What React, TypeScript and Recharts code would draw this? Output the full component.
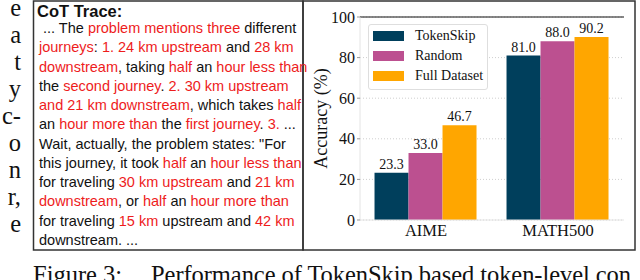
import {
  BarChart,
  Bar,
  XAxis,
  YAxis,
  CartesianGrid,
  Legend,
  LabelList,
  ReferenceLine,
} from "recharts";

const CATEGORIES = ["AIME", "MATH500"];
const TOKENSKIP = [23.3, 81.0];
const RANDOM = [33.0, 88.0];
const FULL_DATASET = [46.7, 90.2];
const Y_TICKS = [0, 20, 40, 60, 80, 100];

const SERIES = [
  { key: "tokenSkip", name: "TokenSkip", color: "#003f5c", values: TOKENSKIP },
  { key: "random", name: "Random", color: "#bc5090", values: RANDOM },
  { key: "fullDataset", name: "Full Dataset", color: "#ffa600", values: FULL_DATASET },
];

const data = CATEGORIES.map((category, i) => {
  const row: Record<string, string | number> = { category };
  SERIES.forEach((s) => {
    row[s.key] = s.values[i];
  });
  return row;
});

// left margin letters of the cut-off paragraph
const MARGIN_LETTERS = ["e", "a", "t", "y", "c-", "o", "n", "r,", "e"];

// [text, highlighted]
type Seg = [string, boolean];
const COT_LINES: Seg[][] = [
  [["... The ", false], ["problem mentions three", true], [" different", false]],
  [["journeys", true], [": ", false], ["1. 24 km upstream", true], [" and ", false], ["28 km", true]],
  [["downstream", true], [", taking ", false], ["half", true], [" an ", false], ["hour less than", true]],
  [["the ", false], ["second journey", true], [". ", false], ["2. 30 km upstream", true]],
  [["and 21 km downstream", true], [", which takes ", false], ["half", true]],
  [["an ", false], ["hour more than", true], [" the ", false], ["first journey", true], [". ", false], ["3.", true], [" ...", false]],
  [["Wait, actually, the problem states: \"For", false]],
  [["this journey, it took ", false], ["half", true], [" an ", false], ["hour less than", true]],
  [["for traveling ", false], ["30 km upstream", true], [" and ", false], ["21 km", true]],
  [["downstream", true], [", or ", false], ["half", true], [" an ", false], ["hour more than", true]],
  [["for traveling ", false], ["15 km", true], [" upstream and ", false], ["42 km", true]],
  [["downstream. ...", false]],
];

const SERIF = "'Liberation Serif', 'Times New Roman', serif";
const SANS = "'Liberation Sans', Arial, sans-serif";
const RED = "#ee1c1c";

function PageText() {
  return (
    <svg width={640} height={280} style={{ position: "absolute", left: 0, top: 0 }}>
      {MARGIN_LETTERS.map((l, i) => (
        <text key={i} x={21} y={16 + i * 27} textAnchor="end" fontFamily={SERIF} fontSize={24.5} fill="#111">
          {l}
        </text>
      ))}
      <rect x={33.5} y={1} width={269.5} height={249} fill="none" stroke="#333" strokeWidth={1.5} />
      <rect x={303} y={1} width={332} height={249} fill="none" stroke="#333" strokeWidth={1.5} />
      <text x={37} y={17} fontFamily={SANS} fontSize={16.5} fontWeight="bold" fill="#111">
        CoT Trace:
      </text>
      {COT_LINES.map((segs, i) => (
        <text
          key={i}
          x={i === 0 ? 43 : 39}
          y={33 + i * 19.27}
          fontFamily={SANS}
          fontSize={14.5}
          fill="#111"
          style={{ whiteSpace: "pre" }}
        >
          {segs.map(([t, hi], j) => (
            <tspan key={j} fill={hi ? RED : "#111"}>
              {t}
            </tspan>
          ))}
        </text>
      ))}
      <text x={33} y={283} fontFamily={SERIF} fontSize={24.5} fill="#111">
        Figure 3:
      </text>
      <text
        x={151}
        y={283}
        fontFamily={SERIF}
        fontSize={24.5}
        fill="#111"
        textLength={480}
        lengthAdjust="spacing"
      >
        Performance of TokenSkip based token-level con
      </text>
    </svg>
  );
}

function LegendBox() {
  return (
    <div
      style={{
        width: 120,
        height: 66,
        boxSizing: "border-box",
        background: "#fff",
        border: "1px solid #dedede",
        borderRadius: 3,
        paddingTop: 1,
      }}
    >
      {SERIES.map((s) => (
        <div key={s.key} style={{ display: "flex", alignItems: "center", height: 20 }}>
          <div style={{ width: 31, height: 10, background: s.color, marginLeft: 4, marginRight: 11 }} />
          <span style={{ fontFamily: SERIF, fontSize: 14, color: "#111", lineHeight: "20px" }}>{s.name}</span>
        </div>
      ))}
    </div>
  );
}

export default function App() {
  return (
    <div
      style={{
        position: "fixed",
        left: 0,
        top: 0,
        width: 640,
        height: 280,
        background: "#fff",
        overflow: "hidden",
      }}
    >
      <PageText />
      <div style={{ position: "absolute", left: 303, top: 0 }}>
        <BarChart
          width={332}
          height={250}
          data={data}
          margin={{ top: 17, right: 11, bottom: 4, left: 0 }}
          barCategoryGap="11%"
          barGap={0}
        >
          <CartesianGrid vertical={false} stroke="#cfcfcf" strokeDasharray="1 2" />
          <XAxis
            dataKey="category"
            height={26}
            tickLine={false}
            tickSize={0}
            tickMargin={4}
            axisLine={{ stroke: "#e4e4e4" }}
            tick={{ fontFamily: SERIF, fontSize: 16.5, fill: "#111" }}
          />
          <YAxis
            width={57}
            domain={[0, 100]}
            ticks={Y_TICKS}
            tickSize={3}
            tickLine={{ stroke: "#999" }}
            axisLine={{ stroke: "#e4e4e4" }}
            tick={{ fontFamily: SERIF, fontSize: 16, fill: "#111" }}
            label={{
              value: "Accuracy (%)",
              angle: -90,
              position: "insideLeft",
              offset: 18,
              style: { textAnchor: "middle", fontFamily: SERIF, fontSize: 18, fill: "#111" },
            }}
          />
          <YAxis
            yAxisId="right"
            orientation="right"
            width={0}
            domain={[0, 100]}
            tick={false}
            tickLine={false}
            axisLine={{ stroke: "#e4e4e4" }}
          />
          <Legend
            layout="vertical"
            align="center"
            verticalAlign="middle"
            wrapperStyle={{ left: 65, top: 24, width: 120, height: 66 }}
            content={<LegendBox />}
          />
          {SERIES.map((s) => (
            <Bar key={s.key} dataKey={s.key} name={s.name} fill={s.color} isAnimationActive={false}>
              <LabelList
                dataKey={s.key}
                position="top"
                offset={4}
                formatter={(v: any) => Number(v).toFixed(1)}
                fontFamily={SERIF}
                fontSize={14}
                fill="#111"
              />
            </Bar>
          ))}
          <ReferenceLine y={100} stroke="#111" strokeWidth={1} />
        </BarChart>
      </div>
    </div>
  );
}
